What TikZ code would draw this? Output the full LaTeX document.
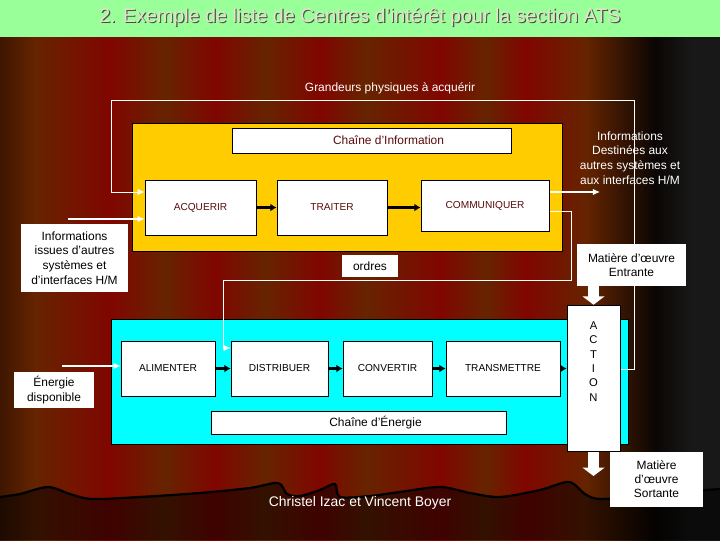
\documentclass[tikz,border=0pt]{standalone}
\usepackage{fontspec}
\setmainfont{Liberation Sans}
\usetikzlibrary{positioning}
\usetikzlibrary{arrows.meta}

\definecolor{vertTitre}{RGB}{153,255,153}
\definecolor{texteTitre}{RGB}{226,226,206}
\definecolor{ombreTitre}{RGB}{70,80,60}
\definecolor{rideauSombre}{RGB}{62,22,0}
\definecolor{rideauBrun}{RGB}{102,36,0}
\definecolor{rideauRouge}{RGB}{128,6,0}
\definecolor{rideauNoir}{RGB}{10,6,4}
\definecolor{rideauGris}{RGB}{24,24,24}
\definecolor{jauneInfo}{RGB}{255,204,0}
\definecolor{cyanEnergie}{RGB}{0,255,255}
\definecolor{texteInfo}{RGB}{90,10,10}

\newcommand{\ombre}[1]{\makebox[0pt][l]{\hspace*{0.8pt}\raisebox{-0.8pt}{\color{ombreTitre}#1}}#1}

\pgfdeclarelayer{fond}
\pgfdeclarelayer{liens}
\pgfsetlayers{fond,liens,main}

\tikzset{
  dims/.style 2 args={minimum width=#1*0.025cm, minimum height=#2*0.025cm},
  bloc/.style={draw=black, fill=white, inner sep=0pt, font=\fontsize{7.2}{9}\selectfont},
  blocinfo/.style={bloc, text=texteInfo},
  etiquette/.style={fill=white, inner sep=0pt, align=center, font=\fontsize{8.5}{10.4}\selectfont},
  blanc/.style={text=white, align=center, font=\fontsize{8.5}{10.4}\selectfont},
  fleche/.style={black, line width=1.8pt, -{Latex[length=4.5pt,width=5.5pt]}},
  retour/.style={white, line width=0.7pt},
  flecheblanche/.style={white, line width=0.9pt, -{Latex[length=5pt,width=4.5pt]}},
  matiere/.style={white, line width=7.8pt, -{Triangle[length=6pt,width=15.5pt]}},
}

\begin{document}
\begin{tikzpicture}[x=0.025cm, y=-0.025cm]
\useasboundingbox (0,0) rectangle (720,540);

%% rideau de fond
\begin{pgfonlayer}{fond}
\foreach \xa/\xb/\ca/\cb in {0/35/rideauSombre/rideauBrun, 35/110/rideauBrun/rideauRouge,
    110/165/rideauRouge/rideauBrun, 165/215/rideauBrun/rideauRouge, 215/265/rideauRouge/rideauBrun,
    265/320/rideauBrun/rideauRouge, 320/365/rideauRouge/rideauBrun, 365/440/rideauBrun/rideauRouge,
    440/485/rideauRouge/rideauBrun, 485/525/rideauBrun/rideauRouge, 525/585/rideauRouge/rideauBrun,
    585/655/rideauBrun/rideauNoir, 655/690/rideauNoir/rideauGris, 690/720/rideauGris/rideauGris}
  \shade[left color=\ca, right color=\cb] (\xa,37) rectangle (\xb+0.5,540);

\fill[black, opacity=0.5] plot[smooth, tension=0.5] coordinates {(0,497) (20,494) (48,487) (70,494) (92,499)
  (140,497) (200,493) (250,488) (278,483) (287,494) (300,496) (320,490) (335,484) (340,497) (370,496)
  (400,492) (440,487) (470,493) (500,497) (540,490) (569,482) (585,494) (600,499) (640,496) (680,492) (720,489)}
  -- (720,540) -- (0,540) -- cycle;
\draw[black, line width=1.6pt] plot[smooth, tension=0.5] coordinates {(0,497) (20,494) (48,487) (70,494) (92,499)
  (140,497) (200,493) (250,488) (278,483) (287,494) (300,496) (320,490) (335,484) (340,497) (370,496)
  (400,492) (440,487) (470,493) (500,497) (540,490) (569,482) (585,494) (600,499) (640,496) (680,492) (720,489)};

\fill[vertTitre] (0,0) rectangle (720,37);

%% les deux chaines
\filldraw[fill=jauneInfo, draw=black, line width=0.6pt] (132,123) rectangle (562,251);
\filldraw[fill=cyanEnergie, draw=black, line width=0.6pt] (111,319) rectangle (628,444);
\end{pgfonlayer}

\node[text=texteTitre, font=\fontsize{14}{16}\selectfont] (titre) at (360,18) {\ombre{2. Exemple de liste de Centres d’intérêt pour la section ATS}};

\node[blanc] (grandeurs) at (390,88) {Grandeurs physiques à acquérir};
\node[bloc, dims={279}{25}, font=\fontsize{8.5}{10}\selectfont, text=texteInfo] (chInfo) at (371.5,140.5) {\hspace*{0.85cm}Chaîne d’Information};

\node[blocinfo, dims={111}{55}] (acq) at (200.5,207.5) {ACQUERIR};
\node[blocinfo, dims={110}{55}] (trait) at (332,207.5) {TRAITER};
\node[blocinfo, dims={128}{51}] (comm) at (485,205.5) {COMMUNIQUER};

\node[blanc] (infoDest) at (630,158) {Informations\\Destinées aux\\autres systèmes et\\aux interfaces H/M};
\node[etiquette, dims={107}{68}] (infoIss) at (74.5,258) {Informations\\issues d’autres\\systèmes et\\d’interfaces H/M};
\node[etiquette, dims={56}{22}] (ordres) at (370,266) {ordres};
\node[etiquette, dims={109}{42}] (matEntree) at (631.5,265) {Matière d’œuvre\\Entrante};

\node[bloc, dims={94}{55}] (alim) at (168,368.5) {ALIMENTER};
\node[bloc, dims={97}{55}] (distr) at (279.5,368.5) {DISTRIBUER};
\node[bloc, dims={89}{55}] (conv) at (387.5,368.5) {CONVERTIR};
\node[bloc, dims={114}{55}] (trans) at (503,368.5) {TRANSMETTRE};
\node[bloc, dims={53}{146}] (action) at (593.5,378) {};
\node[align=center, inner sep=0pt, font=\fontsize{8}{10.2}\selectfont, below=0.42cm of action.north] (actionTxt) {A\\C\\T\\I\\O\\N};

\node[etiquette, dims={80}{36}] (energie) at (54,390) {Énergie\\disponible};
\node[bloc, dims={295}{23}, font=\fontsize{8.5}{10}\selectfont] (chEnergie) at (358.5,422.5) {\hspace*{0.85cm}Chaîne d’Énergie};
\node[etiquette, dims={93}{55}, font=\fontsize{8.5}{9.9}\selectfont] (matSortie) at (656.5,479.5) {Matière\\d’œuvre\\Sortante};

\node[text=white, font=\fontsize{9.9}{12}\selectfont] (auteurs) at (360,503) {Christel Izac et Vincent Boyer};

\coordinate (infoIn) at (68,219);
\coordinate (energieIn) at (62,366);
\coordinate (infoOut) at (600,192);
\coordinate (sortie) at (595,476);

%% liaisons
\begin{pgfonlayer}{liens}
\draw[retour, -{Latex[length=5pt,width=4.5pt]}] (action.east |- 0,369) -| (634,100) -| (111,192) -- (acq.west |- 0,192);
\draw[flecheblanche] (infoIn) -- (acq.west |- infoIn);
\draw[fleche] (acq) -- (trait);
\draw[fleche] (trait.east) -- (trait.east -| comm.west);
\draw[flecheblanche] (comm.east |- infoOut) -- (infoOut);
\draw[retour, -{Latex[length=5pt,width=4.5pt]}] (comm.east |- 0,211) -| (571,280) -| (223,348) -- (distr.west |- 0,348);

\draw[matiere] (matEntree.south -| action) -- (action.north);
\draw[matiere] (action.south) -- (action.south |- sortie);

\draw[flecheblanche] (energieIn) -- (alim.west |- energieIn);
\foreach \a/\b in {alim/distr, distr/conv, conv/trans}
  \draw[fleche] (\a) -- (\b);
\draw[fleche] (trans.east) -- (trans.east -| action.west);
\end{pgfonlayer}

\end{tikzpicture}
\end{document}
